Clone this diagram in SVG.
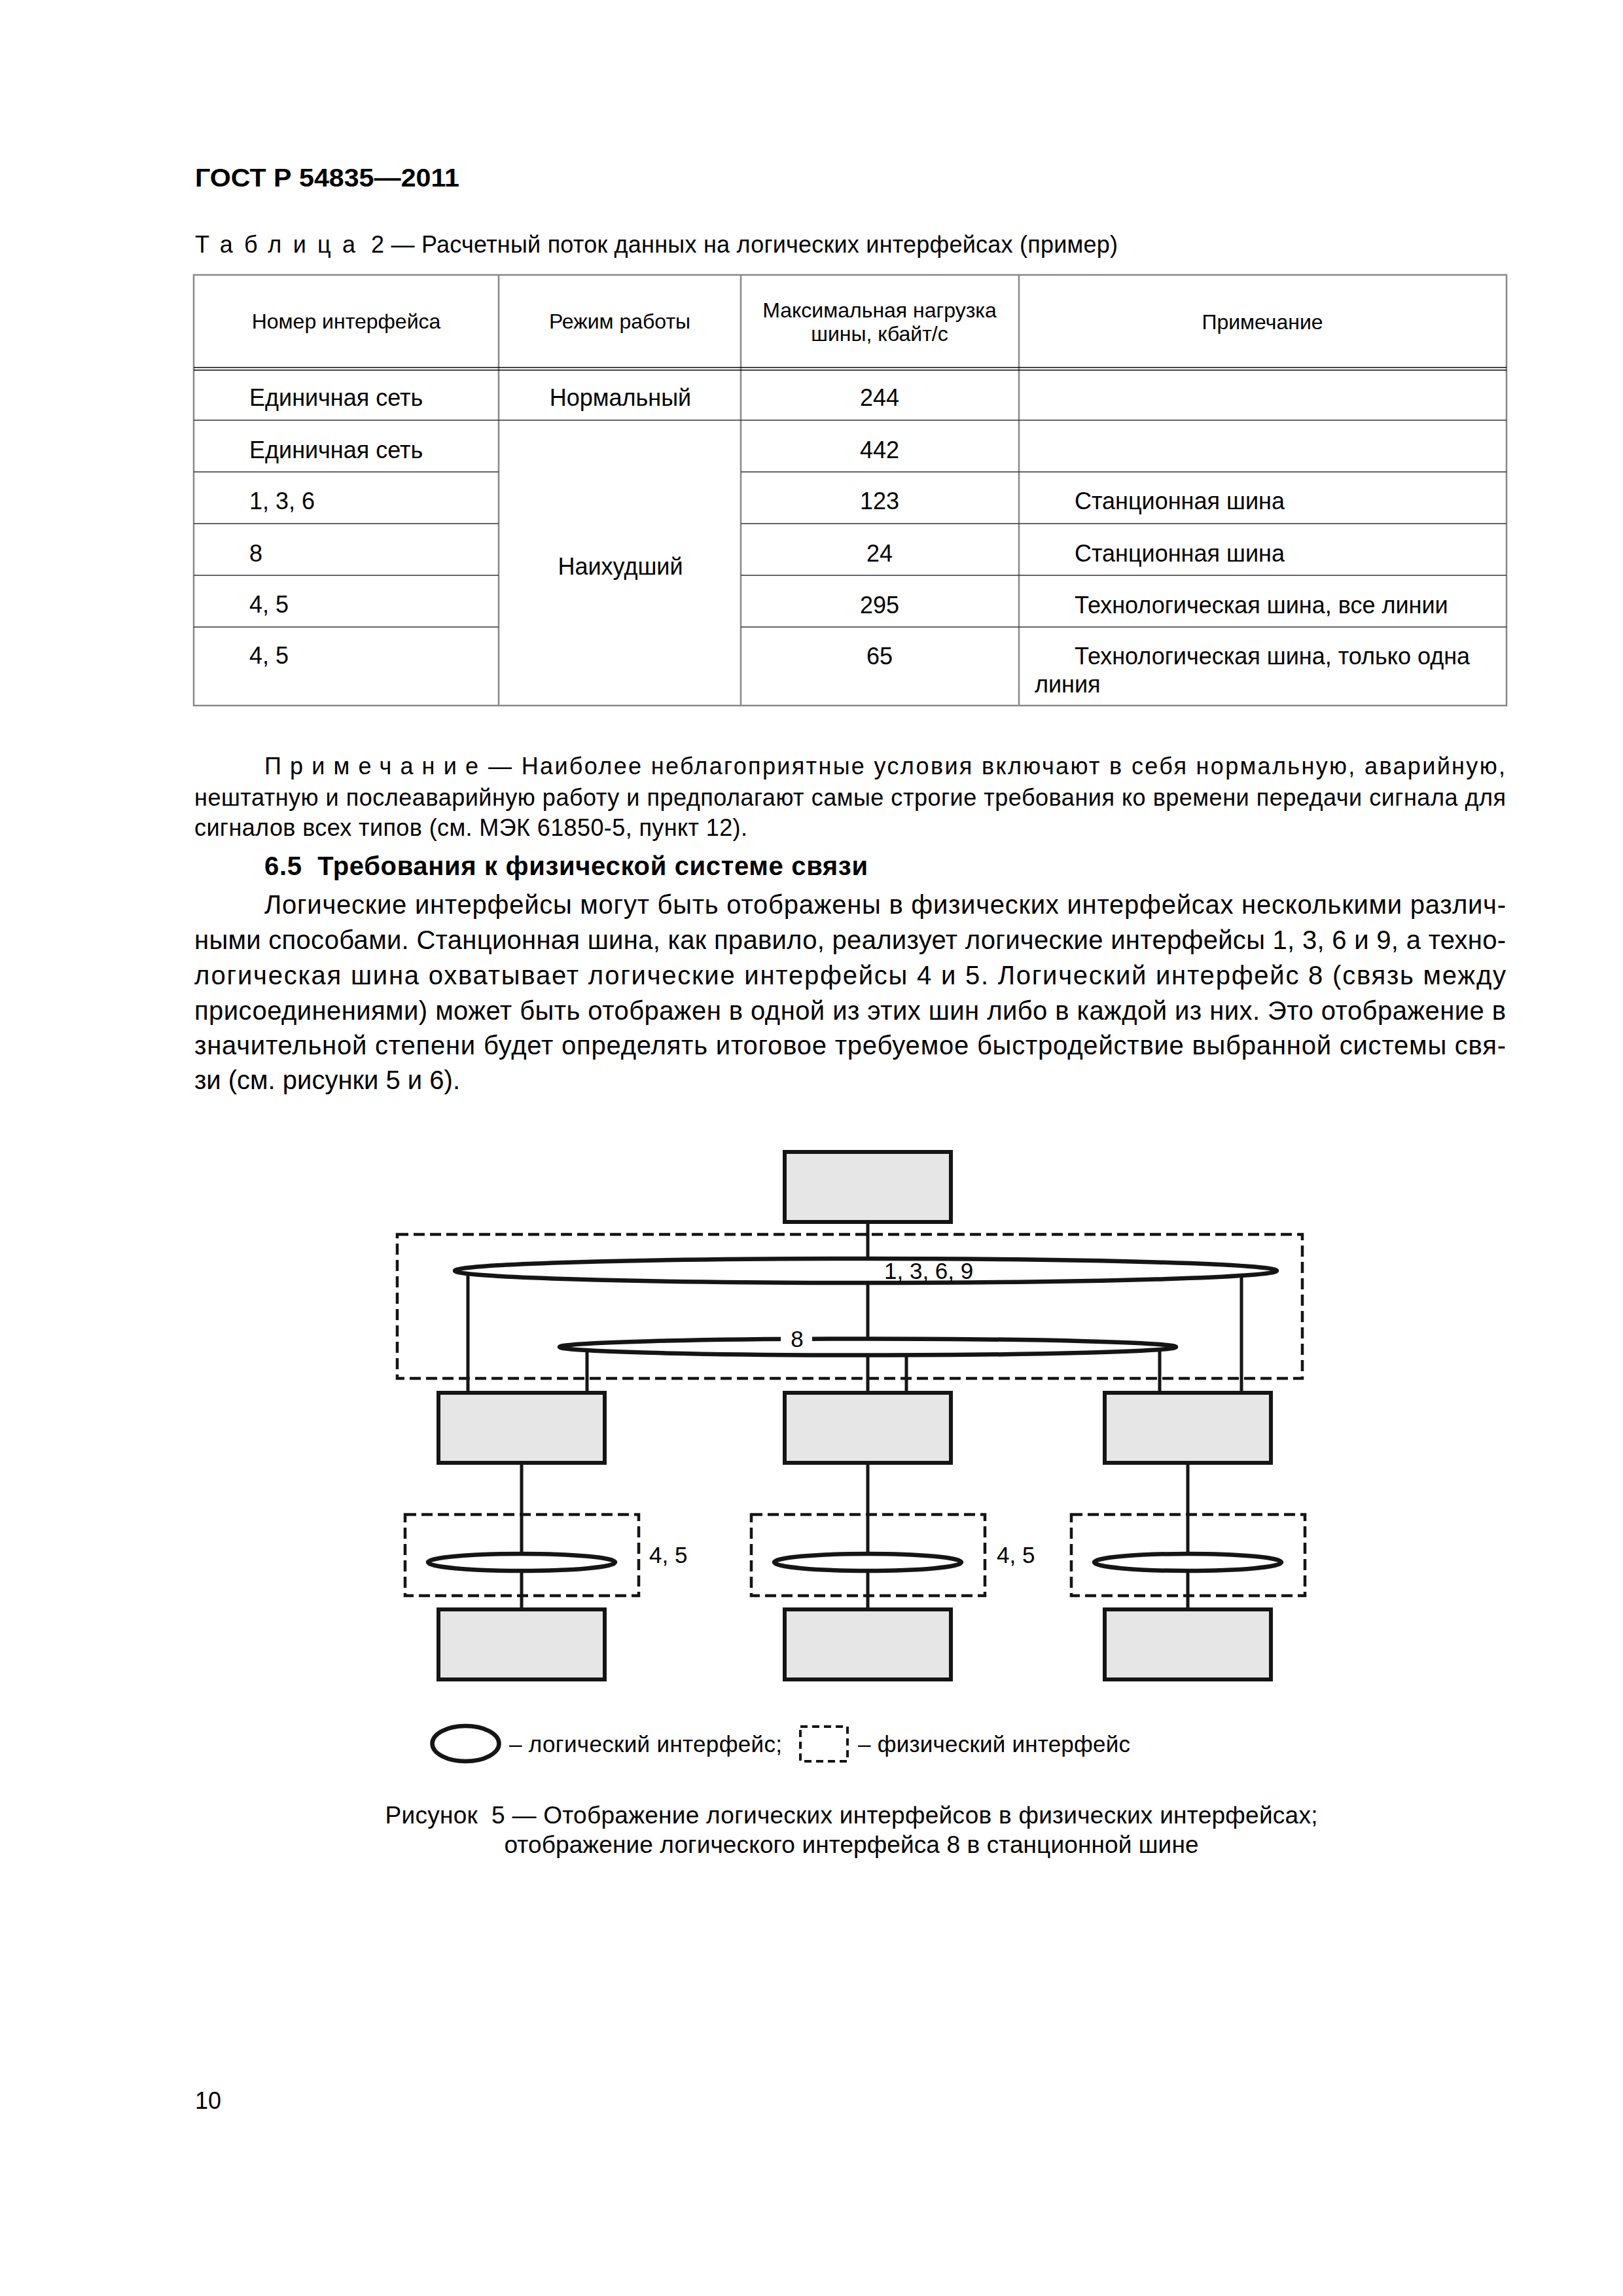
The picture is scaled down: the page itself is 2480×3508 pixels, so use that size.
<svg xmlns="http://www.w3.org/2000/svg" width="2480" height="3508" viewBox="0 0 2480 3508">
<style>
text{font-family:"Liberation Sans",Arial,sans-serif;fill:#000}
.h{font-size:38px;font-weight:bold}
.ti{font-size:36px}
.th{font-size:32px}
.td{font-size:36px}
.nt{font-size:36px}
.bd{font-size:40px}
.hb{font-size:40px;font-weight:bold}
.lb{font-size:35px}
.cp{font-size:37px}
.mid{text-anchor:middle}
.tv{stroke:#888;stroke-width:2.5;fill:none}
.tr{stroke:#333;stroke-width:1.6;fill:none}
.box{fill:#e6e6e6;stroke:#151515;stroke-width:6}
.dash{fill:none;stroke:#151515;stroke-width:4.5;stroke-dasharray:17 8}
.ell{fill:#fff;stroke:#151515;stroke-width:6.5}
.con{stroke:#151515;stroke-width:5;fill:none}
</style>
<rect width="2480" height="3508" fill="#fff"/>

<text class="h" x="298" y="285" textLength="404" lengthAdjust="spacingAndGlyphs">ГОСТ Р 54835—2011</text>

<text class="ti" x="298" y="386" textLength="245" lengthAdjust="spacing">Таблица</text>
<text class="ti" x="567" y="386" textLength="1141" lengthAdjust="spacing">2 — Расчетный поток данных на логических интерфейсах (пример)</text>

<g id="table">
<rect class="tv" x="296" y="420" width="2006" height="658"/>
<line class="tv" x1="762" y1="420" x2="762" y2="1078"/>
<line class="tv" x1="1132" y1="420" x2="1132" y2="1078"/>
<line class="tv" x1="1557" y1="420" x2="1557" y2="1078"/>
<line stroke="#000" stroke-width="1.5" x1="296" y1="561.5" x2="2302" y2="561.5"/>
<line stroke="#000" stroke-width="1.5" x1="296" y1="565.5" x2="2302" y2="565.5"/>
<line class="tr" x1="296" y1="642" x2="2302" y2="642"/>
<line class="tr" x1="296" y1="721" x2="762" y2="721"/>
<line class="tr" x1="1132" y1="721" x2="2302" y2="721"/>
<line class="tr" x1="296" y1="800" x2="762" y2="800"/>
<line class="tr" x1="1132" y1="800" x2="2302" y2="800"/>
<line class="tr" x1="296" y1="879" x2="762" y2="879"/>
<line class="tr" x1="1132" y1="879" x2="2302" y2="879"/>
<line class="tr" x1="296" y1="958" x2="762" y2="958"/>
<line class="tr" x1="1132" y1="958" x2="2302" y2="958"/>

<text class="th mid" x="529" y="502">Номер интерфейса</text>
<text class="th mid" x="947" y="502">Режим работы</text>
<text class="th mid" x="1344" y="485">Максимальная нагрузка</text>
<text class="th mid" x="1344" y="521">шины, кбайт/с</text>
<text class="th mid" x="1929" y="503">Примечание</text>

<text class="td" x="381" y="620">Единичная сеть</text>
<text class="td mid" x="948" y="620">Нормальный</text>
<text class="td mid" x="1344" y="620">244</text>

<text class="td" x="381" y="700">Единичная сеть</text>
<text class="td mid" x="1344" y="700">442</text>

<text class="td" x="381" y="778">1, 3, 6</text>
<text class="td mid" x="1344" y="778">123</text>
<text class="td" x="1642" y="778">Станционная шина</text>

<text class="td" x="381" y="858">8</text>
<text class="td mid" x="1344" y="858">24</text>
<text class="td" x="1642" y="858">Станционная шина</text>
<text class="td mid" x="948" y="878">Наихудший</text>

<text class="td" x="381" y="936">4, 5</text>
<text class="td mid" x="1344" y="937">295</text>
<text class="td" x="1642" y="937">Технологическая шина, все линии</text>

<text class="td" x="381" y="1014">4, 5</text>
<text class="td mid" x="1344" y="1015">65</text>
<text class="td" x="1642" y="1015">Технологическая шина, только одна</text>
<text class="td" x="1581" y="1058">линия</text>
</g>

<g id="text-body">
<text class="nt" x="404" y="1183" textLength="327" lengthAdjust="spacing">Примечание</text>
<text class="nt" x="746" y="1183" textLength="1554" lengthAdjust="spacing">— Наиболее неблагоприятные условия включают в себя нормальную, аварийную,</text>
<text class="nt" x="297" y="1231" textLength="2004" lengthAdjust="spacing">нештатную и послеаварийную работу и предполагают самые строгие требования ко времени передачи сигнала для</text>
<text class="nt" x="297" y="1277" textLength="845" lengthAdjust="spacing">сигналов всех типов (см. МЭК 61850-5, пункт 12).</text>

<text class="hb" x="404" y="1337" textLength="922" lengthAdjust="spacing" xml:space="preserve">6.5  Требования к физической системе связи</text>

<text class="bd" x="404" y="1396" textLength="1897" lengthAdjust="spacing">Логические интерфейсы могут быть отображены в физических интерфейсах несколькими различ-</text>
<text class="bd" x="297" y="1450" textLength="2004" lengthAdjust="spacing">ными способами. Станционная шина, как правило, реализует логические интерфейсы 1, 3, 6 и 9, а техно-</text>
<text class="bd" x="297" y="1504" textLength="2004" lengthAdjust="spacing">логическая шина охватывает логические интерфейсы 4 и 5. Логический интерфейс 8 (связь между</text>
<text class="bd" x="297" y="1558" textLength="2004" lengthAdjust="spacing">присоединениями) может быть отображен в одной из этих шин либо в каждой из них. Это отображение в</text>
<text class="bd" x="297" y="1611" textLength="2004" lengthAdjust="spacing">значительной степени будет определять итоговое требуемое быстродействие выбранной системы свя-</text>
<text class="bd" x="297" y="1664" textLength="406" lengthAdjust="spacing">зи (см. рисунки 5 и 6).</text>
</g>

<g id="connectors">
<line class="con" x1="1326" y1="1867" x2="1326" y2="2128"/>
<line class="con" x1="715" y1="1941" x2="715" y2="2128"/>
<line class="con" x1="1897" y1="1941" x2="1897" y2="2128"/>
<line class="con" x1="897" y1="2058" x2="897" y2="2128"/>
<line class="con" x1="1385" y1="2058" x2="1385" y2="2128"/>
<line class="con" x1="1772" y1="2058" x2="1772" y2="2128"/>
<line class="con" x1="797" y1="2235" x2="797" y2="2459"/>
<line class="con" x1="1326" y1="2235" x2="1326" y2="2459"/>
<line class="con" x1="1815" y1="2235" x2="1815" y2="2459"/>
</g>

<g id="phys-station-bus"><rect class="dash" x="607" y="1886" width="1383" height="220"/></g>
<g id="logic-1369">
<ellipse class="ell" cx="1323" cy="1941.5" rx="628" ry="18.5"/>
<text class="lb" x="1351" y="1954">1, 3, 6, 9</text>
</g>
<g id="logic-8">
<ellipse class="ell" cx="1326" cy="2058" rx="471" ry="12.5"/>
<rect x="1193" y="2039" width="48" height="14" fill="#fff"/>
<text class="lb mid" x="1218" y="2058">8</text>
</g>

<g id="node-top"><rect class="box" x="1199" y="1760" width="254" height="107"/></g>
<g id="node-bay-1"><rect class="box" x="670" y="2128" width="254" height="107"/></g>
<g id="node-bay-2"><rect class="box" x="1199" y="2128" width="254" height="107"/></g>
<g id="node-bay-3"><rect class="box" x="1688" y="2128" width="254" height="107"/></g>

<g id="phys-proc-1"><rect class="dash" x="619" y="2314" width="357" height="124"/></g>
<g id="phys-proc-2"><rect class="dash" x="1148" y="2314" width="357" height="124"/></g>
<g id="phys-proc-3"><rect class="dash" x="1637" y="2314" width="357" height="124"/></g>
<g id="logic-45-1"><ellipse class="ell" cx="797" cy="2387" rx="143" ry="13"/></g>
<g id="logic-45-2"><ellipse class="ell" cx="1326" cy="2387" rx="143" ry="13"/></g>
<g id="logic-45-3"><ellipse class="ell" cx="1815" cy="2387" rx="143" ry="13"/></g>
<text class="lb" x="992" y="2388">4, 5</text>
<text class="lb" x="1523" y="2388">4, 5</text>

<g id="node-proc-1"><rect class="box" x="670" y="2459" width="254" height="107"/></g>
<g id="node-proc-2"><rect class="box" x="1199" y="2459" width="254" height="107"/></g>
<g id="node-proc-3"><rect class="box" x="1688" y="2459" width="254" height="107"/></g>

<g id="legend">
<ellipse cx="711.5" cy="2664" rx="51" ry="27" fill="none" stroke="#151515" stroke-width="6.5"/>
<text class="lb" x="778" y="2677" textLength="417" lengthAdjust="spacing">– логический интерфейс;</text>
<rect x="1223" y="2638" width="72" height="53" fill="none" stroke="#151515" stroke-width="4" stroke-dasharray="11 7"/>
<text class="lb" x="1311" y="2677" textLength="416" lengthAdjust="spacing">– физический интерфейс</text>
</g>

<text class="cp mid" x="1301" y="2786" textLength="1425" lengthAdjust="spacing" xml:space="preserve">Рисунок  5 — Отображение логических интерфейсов в физических интерфейсах;</text>
<text class="cp mid" x="1301" y="2831" textLength="1061" lengthAdjust="spacing">отображение логического интерфейса 8 в станционной шине</text>

<text class="ti" x="298" y="3222">10</text>
</svg>
